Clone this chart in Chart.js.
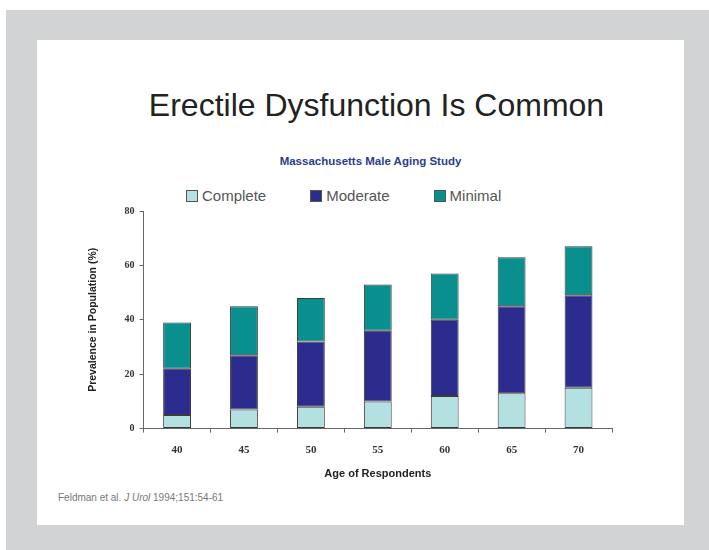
<!DOCTYPE html>
<html>
<head>
<meta charset="utf-8">
<script src="https://cdn.jsdelivr.net/npm/chart.js@4/dist/chart.umd.min.js"></script>
<style>
  body { margin: 0; background: #fff; width: 709px; height: 550px; overflow: hidden; position: relative; }
  #frame { position: absolute; left: 6px; top: 10px; width: 703px; height: 540px; background: #d2d3d5; }
  #slide { position: absolute; left: 37px; top: 40px; width: 647px; height: 485px; background: #fff; }
  .txt { position: absolute; white-space: nowrap; font-family: "Liberation Sans", Arial, sans-serif; }
  #title { left: 53px; width: 647px; top: 87px; text-align: center; font-size: 32px; color: #222; }
  #subtitle { left: 47px; width: 647px; top: 155px; text-align: center; font-size: 11.5px; font-weight: bold; color: #2b3d8c; }
  #legend { position: absolute; left: 186px; top: 187px; display: flex; gap: 44px; font-family: "Liberation Sans", Arial, sans-serif; font-size: 15px; color: #555; }
  #legend span.box { display: inline-block; width: 10px; height: 10px; border: 1px solid #555; margin-right: 4px; vertical-align: -1px; }
  #note { left: 58px; top: 492px; font-size: 10px; color: #777; }
  #wrap { position: absolute; left: 37px; top: 200px; width: 647px; height: 290px; }
</style>
</head>
<body>
<div id="frame"></div>
<div id="slide"></div>
<div class="txt" id="title">Erectile Dysfunction Is Common</div>
<div class="txt" id="subtitle">Massachusetts Male Aging Study</div>
<div id="legend"></div>
<div class="txt" id="note">Feldman et al. <i>J Urol</i> 1994;151:54-61</div>
<div id="wrap"><canvas id="myChart"></canvas></div>
<script>
// Data
const ages = ["40", "45", "50", "55", "60", "65", "70"];
const complete = [5, 7, 8, 10, 12, 13, 15];
const moderate = [17, 20, 24, 26, 28, 32, 34];
const minimal = [17, 18, 16, 17, 17, 18, 18];
const yTicks = [0, 20, 40, 60, 80];

const seriesNames = ["Complete", "Moderate", "Minimal"];
const seriesColors = ["#b3e0e0", "#2c2c8e", "#0a8f8f"];

const datasets = [complete, moderate, minimal].map((vals, i) => ({
  label: seriesNames[i],
  data: vals,
  backgroundColor: seriesColors[i],
  borderColor: "#3a3a3a",
  borderWidth: 1,
  borderSkipped: false,
  categoryPercentage: 0.8,
  barPercentage: 0.52,
}));

// legend built from the datasets
const legend = document.getElementById("legend");
datasets.forEach((d) => {
  const item = document.createElement("div");
  item.innerHTML = '<span class="box" style="background:' + d.backgroundColor + '"></span>' + d.label;
  legend.appendChild(item);
});

const ctx = document.getElementById("myChart").getContext("2d");
new Chart(ctx, {
  type: "bar",
  data: { labels: ages, datasets: datasets },
  options: {
    responsive: true,
    maintainAspectRatio: false,
    animation: false,
    layout: { padding: { left: 50, right: 72, top: 11, bottom: 9 } },
    plugins: {
      legend: { display: false },
      tooltip: { enabled: false },
    },
    scales: {
      x: {
        stacked: true,
        grid: { drawOnChartArea: false, tickLength: 4, color: "#666" },
        border: { color: "#666" },
        ticks: {
          padding: 11,
          color: "#333",
          font: { family: "Liberation Serif", size: 11, weight: "bold" },
        },
        title: {
          display: true,
          text: "Age of Respondents",
          color: "#222",
          padding: { top: 0, bottom: 0 },
          font: { family: "Liberation Sans", size: 11, weight: "bold" },
        },
      },
      y: {
        stacked: true,
        min: 0,
        max: 80,
        afterBuildTicks: (axis) => { axis.ticks = yTicks.map((v) => ({ value: v })); },
        grid: { drawOnChartArea: false, tickLength: 4, color: "#666" },
        border: { color: "#666" },
        ticks: {
          padding: 5,
          color: "#333",
          font: { family: "Liberation Serif", size: 10, weight: "bold" },
        },
        title: {
          display: true,
          text: "Prevalence in Population (%)",
          color: "#222",
          padding: { top: 0, bottom: 20 },
          font: { family: "Liberation Sans", size: 10.5, weight: "bold" },
        },
      },
    },
  },
});
</script>
</body>
</html>
